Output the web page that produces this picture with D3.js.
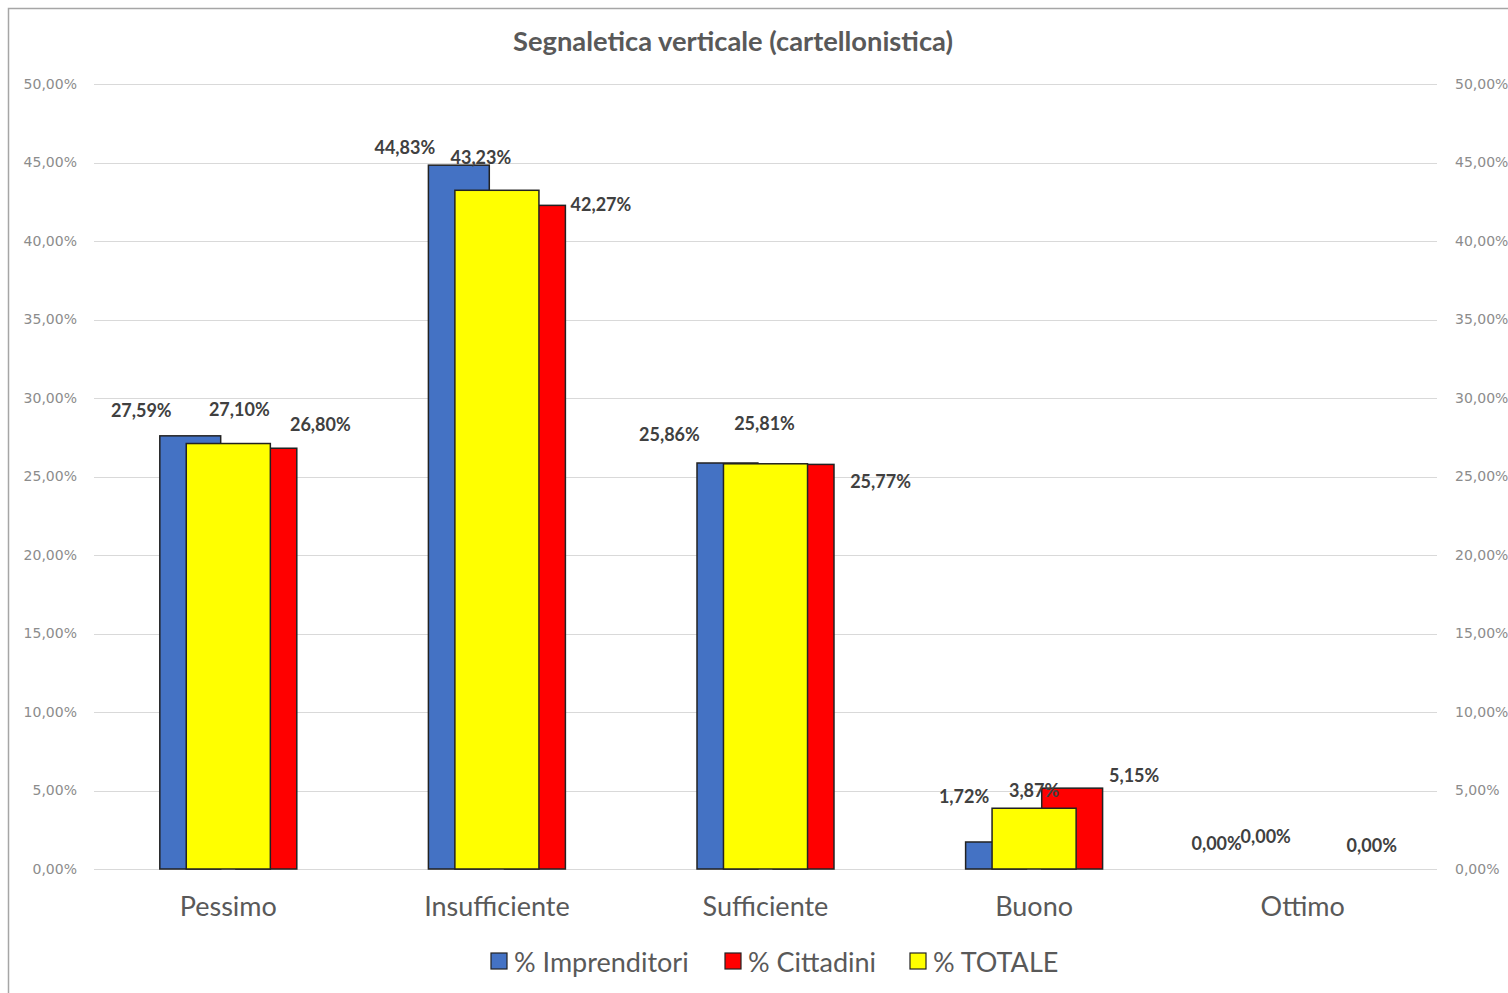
<!DOCTYPE html>
<html><head><meta charset="utf-8">
<script src="https://cdn.jsdelivr.net/npm/d3@7"></script>
<style>body{margin:0;background:#fff;} svg{display:block;}
.tick-lab{font-family:"DejaVu Sans", Verdana, sans-serif !important; font-size:14px !important;}
</style>
</head><body>
<svg id="c" width="1508" height="993"></svg>
<script>
const categories = ["Pessimo","Insufficiente","Sufficiente","Buono","Ottimo"];
const imprenditori = [27.59, 44.83, 25.86, 1.72, 0.00];
const cittadini = [26.80, 42.27, 25.77, 5.15, 0.00];
const totale = [27.10, 43.23, 25.81, 3.87, 0.00];
const yTicks = [0,5,10,15,20,25,30,35,40,45,50];
const seriesNames = ["% Imprenditori","% Cittadini","% TOTALE"];
// manual label nudges (dx, dy) relative to bar centre / top, as placed in the original
const nudgeImp = [[-49,-26],[-54,-18],[-58,-29],[-32,-46],[-48,-26]];
const nudgeCit = [[54,-24],[66,-1],[77,17],[62,-13],[31,-24]];
const nudgeTot = [[11,-35],[-16,-33],[-1,-41],[0,-18],[-37,-33]];

const colors = {imp:"#4472c4", cit:"#ff0000", tot:"#ffff00"};
const svg = d3.select("#c");
const L = 94, R = 1437, T = 84, B = 869;

// frame
svg.append("path").attr("d","M8.5,993 V8.5 H1508").attr("fill","none").attr("stroke","#a6a6a6").attr("stroke-width",1.5);

const y = d3.scaleLinear().domain([0,50]).range([B,T]);
const x0 = d3.scaleBand().domain(categories).range([L,R]).paddingInner(0.49).paddingOuter(0.245);
const x1 = d3.scaleBand().domain(["imp","cit"]).range([0,x0.bandwidth()]).paddingInner(0.2);
const xT = d3.scaleBand().domain(categories).range([L,R]).paddingInner(0.687).paddingOuter(0.3435);
const fmt = v => v.toFixed(2).replace(".",",") + "%";

// gridlines
svg.append("g").selectAll("line").data(yTicks).join("line")
  .attr("x1",L).attr("x2",R).attr("y1",d=>Math.round(y(d))+0.5).attr("y2",d=>Math.round(y(d))+0.5)
  .attr("stroke","#d9d9d9").attr("stroke-width",1.2);

// axes (left & right)
const axL = svg.append("g").attr("transform",`translate(${L},0)`)
  .call(d3.axisLeft(y).tickValues(yTicks).tickSize(0).tickPadding(17).tickFormat(d=>fmt(d)));
const axR = svg.append("g").attr("transform",`translate(${R},0)`)
  .call(d3.axisRight(y).tickValues(yTicks).tickSize(0).tickPadding(18).tickFormat(d=>fmt(d)));
[axL,axR].forEach(a=>{a.select(".domain").remove();
  a.attr("font-family",null).attr("font-size",null);
  a.selectAll("text").attr("class","tick-lab").attr("fill","#8c8c8c");});

// category axis
const axB = svg.append("g").attr("transform",`translate(0,${B})`)
  .call(d3.axisBottom(x0).tickSize(0).tickPadding(28));
axB.select(".domain").remove();
axB.selectAll("text").attr("font-family","Lato, 'Open Sans', sans-serif").attr("font-size",27).attr("fill","#595959");

const stroke = "#222", sw = 1.5;
const gBars = svg.append("g");
function drawSeries(vals, key, xf, wf){
  gBars.append("g").selectAll("rect").data(vals).join("rect")
    .attr("x",(d,i)=>xf(i)).attr("width",wf())
    .attr("y",d=>y(d)).attr("height",d=>B-y(d))
    .attr("fill",colors[key]).attr("stroke",stroke).attr("stroke-width",sw)
    .style("display",d=>d>0?null:"none");
}
drawSeries(imprenditori,"imp",i=>x0(categories[i])+x1("imp"),()=>x1.bandwidth());
drawSeries(cittadini,"cit",i=>x0(categories[i])+x1("cit"),()=>x1.bandwidth());
drawSeries(totale,"tot",i=>xT(categories[i]),()=>xT.bandwidth());

// data labels
const gLab = svg.append("g").attr("font-family","Lato, 'Open Sans', sans-serif").attr("font-weight","bold")
  .attr("font-size",18).attr("fill","#404040").attr("text-anchor","middle").attr("dominant-baseline","central");
function labels(vals, cx, nudge){
  gLab.append("g").selectAll("text").data(vals).join("text")
    .attr("x",(d,i)=>cx(i)+nudge[i][0]).attr("y",(d,i)=>y(d)+nudge[i][1]).text(d=>fmt(d));
}
labels(imprenditori,i=>x0(categories[i])+x1("imp")+x1.bandwidth()/2,nudgeImp);
labels(totale,i=>xT(categories[i])+xT.bandwidth()/2,nudgeTot);
labels(cittadini,i=>x0(categories[i])+x1("cit")+x1.bandwidth()/2,nudgeCit);

// title
svg.append("text").attr("x",733).attr("y",40).attr("text-anchor","middle").attr("dominant-baseline","central")
  .attr("font-family","Lato, 'Open Sans', sans-serif").attr("font-weight","bold").attr("font-size",27.3)
  .attr("fill","#595959").text("Segnaletica verticale (cartellonistica)");

// legend
const legItems = [{n:seriesNames[0],c:colors.imp,x:491},{n:seriesNames[1],c:colors.cit,x:725},{n:seriesNames[2],c:colors.tot,x:910}];
const lg = svg.append("g");
legItems.forEach(it=>{
  lg.append("rect").attr("x",it.x).attr("y",953).attr("width",16).attr("height",16)
    .attr("fill",it.c).attr("stroke",stroke).attr("stroke-width",1.2);
  lg.append("text").attr("x",it.x+23).attr("y",961).attr("dominant-baseline","central")
    .attr("font-family","Lato, 'Open Sans', sans-serif").attr("font-size",27).attr("fill","#595959").text(it.n);
});
</script>
</body></html>
